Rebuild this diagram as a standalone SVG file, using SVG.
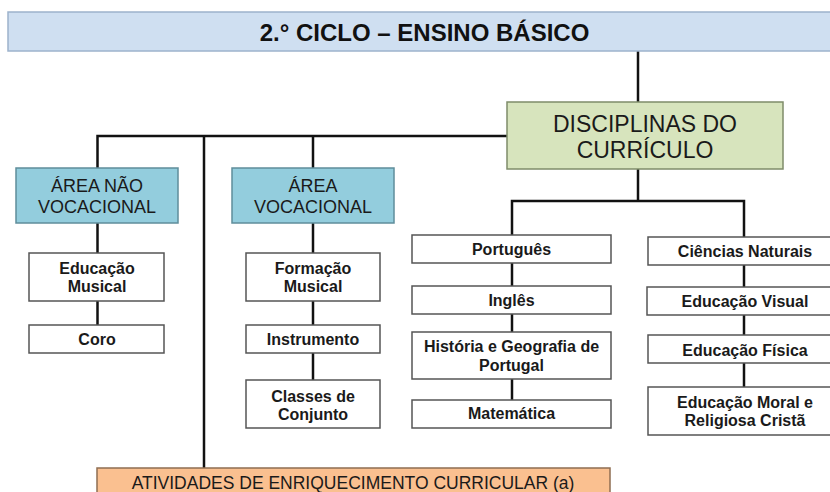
<svg xmlns="http://www.w3.org/2000/svg" width="830" height="492" viewBox="0 0 830 492">
<style>
  .conn { stroke: #111; stroke-width: 2.5; fill: none; }
  .box { fill: #ffffff; stroke: #555; stroke-width: 1.5; }
  .area { fill: #93cddd; stroke: #5f8d9b; stroke-width: 1.5; }
  .disc { fill: #d7e4bd; stroke: #7f8c6a; stroke-width: 1.5; }
  .title { fill: #cfdff1; stroke: #9db3cc; stroke-width: 1.5; }
  .aec { fill: #fac090; stroke: #8f6e52; stroke-width: 1.5; }
  .b { font-family: "Liberation Sans", Arial, sans-serif; font-weight: bold; font-size: 16px; fill: #1a1a1a; text-anchor: middle; }
  .r { font-family: "Liberation Sans", Arial, sans-serif; font-size: 18px; fill: #1a1a1a; text-anchor: middle; }
</style>
<rect width="830" height="492" fill="#ffffff"/>

<g id="connectors">
  <line class="conn" x1="638" y1="51" x2="638" y2="103"/>
  <polyline class="conn" points="507,136 97.5,136 97.5,169"/>
  <line class="conn" x1="204" y1="136" x2="204" y2="468"/>
  <line class="conn" x1="313" y1="136" x2="313" y2="168"/>
  <line class="conn" x1="97.5" y1="223" x2="97.5" y2="253"/>
  <line class="conn" x1="97.5" y1="301" x2="97.5" y2="325"/>
  <line class="conn" x1="313" y1="223" x2="313" y2="253"/>
  <line class="conn" x1="313" y1="301" x2="313" y2="325"/>
  <line class="conn" x1="313" y1="353" x2="313" y2="380"/>
  <line class="conn" x1="638" y1="169" x2="638" y2="201"/>
  <polyline class="conn" points="512,235 512,201 744,201 744,237"/>
  <line class="conn" x1="512" y1="263" x2="512" y2="286"/>
  <line class="conn" x1="512" y1="314" x2="512" y2="332"/>
  <line class="conn" x1="512" y1="379" x2="512" y2="400"/>
  <line class="conn" x1="744" y1="265" x2="744" y2="287"/>
  <line class="conn" x1="744" y1="315" x2="744" y2="335"/>
  <line class="conn" x1="744" y1="363" x2="744" y2="387"/>
</g>

<g id="title">
  <rect class="title" x="8" y="12" width="830" height="39"/>
  <text x="424.5" y="41" font-family="Liberation Sans, Arial, sans-serif" font-weight="bold" font-size="24" fill="#111" text-anchor="middle">2.° CICLO – ENSINO BÁSICO</text>
</g>

<g id="disciplinas">
  <rect class="disc" x="507" y="102" width="276" height="67"/>
  <text class="r" x="645" y="132" font-size="23" style="font-size:23px">DISCIPLINAS DO</text>
  <text class="r" x="645" y="158" style="font-size:23px">CURRÍCULO</text>
</g>

<g id="area-nao-vocacional">
  <rect class="area" x="16" y="168" width="162" height="55"/>
  <text class="r" x="97" y="192">ÁREA NÃO</text>
  <text class="r" x="97" y="213">VOCACIONAL</text>
</g>

<g id="area-vocacional">
  <rect class="area" x="232" y="168" width="162" height="55"/>
  <text class="r" x="313" y="192">ÁREA</text>
  <text class="r" x="313" y="213">VOCACIONAL</text>
</g>

<g id="educacao-musical">
  <rect class="box" x="29" y="253" width="135" height="48"/>
  <text class="b" x="97" y="274">Educação</text>
  <text class="b" x="97" y="292">Musical</text>
</g>

<g id="coro">
  <rect class="box" x="29" y="325" width="135" height="28"/>
  <text class="b" x="97" y="345">Coro</text>
</g>

<g id="formacao-musical">
  <rect class="box" x="246" y="253" width="134" height="48"/>
  <text class="b" x="313" y="274">Formação</text>
  <text class="b" x="313" y="292">Musical</text>
</g>

<g id="instrumento">
  <rect class="box" x="246" y="325" width="134" height="28"/>
  <text class="b" x="313" y="345">Instrumento</text>
</g>

<g id="classes-de-conjunto">
  <rect class="box" x="246" y="380" width="134" height="48"/>
  <text class="b" x="313" y="402">Classes de</text>
  <text class="b" x="313" y="420">Conjunto</text>
</g>

<g id="portugues">
  <rect class="box" x="412" y="235" width="199" height="28"/>
  <text class="b" x="511.5" y="255">Português</text>
</g>

<g id="ingles">
  <rect class="box" x="412" y="286" width="199" height="28"/>
  <text class="b" x="511.5" y="306">Inglês</text>
</g>

<g id="historia-geografia">
  <rect class="box" x="412" y="332" width="199" height="47"/>
  <text class="b" x="511.5" y="352">História e Geografia de</text>
  <text class="b" x="511.5" y="371">Portugal</text>
</g>

<g id="matematica">
  <rect class="box" x="412" y="400" width="199" height="28"/>
  <text class="b" x="511.5" y="419">Matemática</text>
</g>

<g id="ciencias-naturais">
  <rect class="box" x="648" y="237" width="194" height="28"/>
  <text class="b" x="745" y="257">Ciências Naturais</text>
</g>

<g id="educacao-visual">
  <rect class="box" x="647" y="287" width="195" height="28"/>
  <text class="b" x="745" y="307">Educação Visual</text>
</g>

<g id="educacao-fisica">
  <rect class="box" x="648" y="335" width="194" height="28"/>
  <text class="b" x="745" y="356">Educação Física</text>
</g>

<g id="educacao-moral">
  <rect class="box" x="648" y="387" width="194" height="48"/>
  <text class="b" x="745" y="408">Educação Moral e</text>
  <text class="b" x="745" y="426">Religiosa Cristã</text>
</g>

<g id="atividades">
  <rect class="aec" x="97" y="468" width="513" height="40"/>
  <text class="r" x="353" y="489" style="font-size:17.5px">ATIVIDADES DE ENRIQUECIMENTO CURRICULAR (a)</text>
</g>
</svg>
